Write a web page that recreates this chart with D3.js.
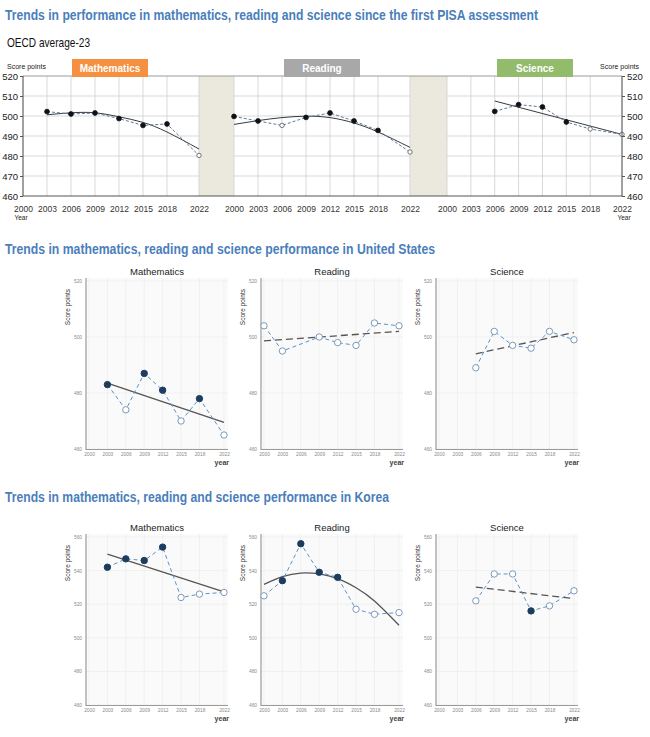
<!DOCTYPE html>
<html><head><meta charset="utf-8">
<script src="https://cdn.jsdelivr.net/npm/d3@7"></script>
<style>body{margin:0;background:#fff}svg{display:block}</style>
</head><body><svg id="c" width="650" height="737"></svg>
<script>
// ---------- DATA ----------
const years = [2000, 2003, 2006, 2009, 2012, 2015, 2018, 2022];
const subjects = ["Mathematics", "Reading", "Science"];
const topTicks = [460, 470, 480, 490, 500, 510, 520];
const usTicks = [460, 480, 500, 520];
const krTicks = [460, 480, 500, 520, 540, 560];

const mainTitle = "Trends in performance in mathematics, reading and science since the first PISA assessment";
const usTitle = "Trends in mathematics, reading and science performance in United States";
const krTitle = "Trends in mathematics, reading and science performance in Korea";

// OECD average-23
const oecdMath = [null, 502.2, 501.0, 501.5, 498.7, 495.3, 496.0, 480.3];
const oecdMathFilled = [0, 1, 1, 1, 1, 1, 1, 0];
const oecdMathTrend = [null, 500.6, 501.6, 501.6, 499.6, 496.8, 492.0, 483.5];
const oecdRead = [499.8, 497.5, 495.3, 499.3, 501.5, 497.5, 492.8, 482.0];
const oecdReadFilled = [1, 1, 0, 1, 1, 1, 1, 0];
const oecdReadTrend = [495.8, 497.7, 499.2, 499.9, 499.2, 496.5, 492.0, 484.3];
const oecdSci = [null, null, 502.3, 505.7, 504.5, 497.0, 493.5, 490.8];
const oecdSciFilled = [0, 0, 1, 1, 1, 1, 0, 0];
const oecdSciTrend = [null, null, 507.5, null, null, null, null, 490.8];

// United States
const usMath = [null, 483, 474, 487, 481, 470, 478, 465];
const usMathFilled = [0, 1, 0, 1, 1, 0, 1, 0];
const usMathTrend = [null, 483.5, null, null, null, null, null, 469.5];
const usRead = [504, 495, null, 500, 498, 497, 505, 504];
const usReadFilled = [0, 0, 0, 0, 0, 0, 0, 0];
const usReadTrend = [498.6, null, null, null, null, null, null, 502.0];
const usSci = [null, null, 489, 502, 497, 496, 502, 499];
const usSciFilled = [0, 0, 0, 0, 0, 0, 0, 0];
const usSciTrend = [null, null, 494.0, null, null, null, null, 501.6];

// Korea
const krMath = [null, 542, 547, 546, 554, 524, 526, 527];
const krMathFilled = [0, 1, 1, 1, 1, 0, 0, 0];
const krMathTrend = [null, 549.8, null, null, null, null, null, 527.3];
const krRead = [525, 534, 556, 539, 536, 517, 514, 515];
const krReadFilled = [0, 1, 1, 1, 1, 0, 0, 0];
const krReadTrend = [531.8, 536.4, 538.5, 538.0, 535.2, 529.8, 521.9, 507.5];
const krSci = [null, null, 522, 538, 538, 516, 519, 528];
const krSciFilled = [0, 0, 0, 0, 0, 1, 0, 0];
const krSciTrend = [null, null, 530.2, null, null, null, null, 523.3];

// ---------- DRAW ----------
const svg = d3.select("#c");
const NARROW = '"Liberation Sans Narrow","Arial Narrow","Liberation Sans",Arial,sans-serif';
const SANS = '"Liberation Sans",Arial,sans-serif';

function pts(vals, filled) {
  return years.map((y, i) => ({ year: y, v: vals[i], f: filled ? filled[i] : 0 })).filter(d => d.v != null);
}

function sectionTitle(txt, y, len) {
  svg.append("text").attr("x", 5).attr("y", y)
    .attr("fill", "#4a7ebb").attr("font-weight", "bold").attr("font-size", 14.5)
    .attr("font-family", NARROW).attr("textLength", len).attr("lengthAdjust", "spacingAndGlyphs")
    .text(txt);
}
sectionTitle(mainTitle, 20, 533);
sectionTitle(usTitle, 254, 430);
sectionTitle(krTitle, 502, 384);

svg.append("text").attr("x", 7).attr("y", 47).attr("font-size", 13).attr("font-family", NARROW)
  .attr("fill", "#111").attr("textLength", 83).attr("lengthAdjust", "spacingAndGlyphs").text("OECD average-23");

// ---- Top OECD panel ----
const tY = d3.scaleLinear().domain([460, 520]).range([196, 76]);
const topPanels = [
  { x0: 23, x1: 199, vals: oecdMath, filled: oecdMathFilled, trend: oecdMathTrend, color: "#f4903f", bx: 72 },
  { x0: 234, x1: 410, vals: oecdRead, filled: oecdReadFilled, trend: oecdReadTrend, color: "#a8a8a8", bx: 284 },
  { x0: 447, x1: 622, vals: oecdSci, filled: oecdSciFilled, trend: oecdSciTrend, color: "#93bb6c", bx: 497 }
];
// beige gaps
svg.append("rect").attr("x", 199).attr("y", 76).attr("width", 35).attr("height", 120).attr("fill", "#ebe8dd");
svg.append("rect").attr("x", 410).attr("y", 76).attr("width", 37).attr("height", 120).attr("fill", "#ebe8dd");

topPanels.forEach((p, k) => {
  const x = d3.scaleLinear().domain([2000, 2022]).range([p.x0, p.x1]);
  const g = svg.append("g");
  g.selectAll(".hg").data(topTicks.slice(1, -1)).join("line")
    .attr("x1", p.x0).attr("x2", p.x1).attr("y1", d => tY(d)).attr("y2", d => tY(d))
    .attr("stroke", "#cfcfcf").attr("stroke-width", 0.8);
  g.selectAll(".vg").data(years).join("line")
    .attr("x1", d => x(d)).attr("x2", d => x(d)).attr("y1", 76).attr("y2", 196)
    .attr("stroke", "#cfcfcf").attr("stroke-width", 0.8);
  const ax = svg.append("g").attr("transform", "translate(0,196)")
    .call(d3.axisBottom(x).tickValues(years).tickFormat(d3.format("d")).tickSize(0).tickPadding(10));
  ax.select(".domain").remove();
  ax.selectAll("text").attr("font-size", 8.5).attr("font-family", NARROW).attr("fill", "#333");
  const tr = pts(p.trend);
  svg.append("path").datum(tr)
    .attr("d", d3.line().x(d => x(d.year)).y(d => tY(d.v)).curve(tr.length > 2 ? d3.curveNatural : d3.curveLinear))
    .attr("fill", "none").attr("stroke", "#3a3a3a").attr("stroke-width", 1);
  const dp = pts(p.vals, p.filled);
  svg.append("path").datum(dp)
    .attr("d", d3.line().x(d => x(d.year)).y(d => tY(d.v)))
    .attr("fill", "none").attr("stroke", "#5a7aa3").attr("stroke-width", 1).attr("stroke-dasharray", "3,2");
  svg.append("g").selectAll("circle").data(dp).join("circle")
    .attr("cx", d => x(d.year)).attr("cy", d => tY(d.v)).attr("r", d => d.f ? 2.4 : 2.2)
    .attr("fill", d => d.f ? "#111" : "#fff").attr("stroke", d => d.f ? "#111" : "#555").attr("stroke-width", 0.8);
});
svg.append("line").attr("x1", 23).attr("x2", 622).attr("y1", 76).attr("y2", 76).attr("stroke", "#9a9a9a").attr("stroke-width", 1);
svg.append("line").attr("x1", 23).attr("x2", 622).attr("y1", 196).attr("y2", 196).attr("stroke", "#555").attr("stroke-width", 1);
svg.append("line").attr("x1", 23).attr("x2", 23).attr("y1", 76).attr("y2", 196).attr("stroke", "#555").attr("stroke-width", 1);
svg.append("line").attr("x1", 622).attr("x2", 622).attr("y1", 76).attr("y2", 196).attr("stroke", "#555").attr("stroke-width", 1);
const yl = svg.append("g").attr("transform", "translate(23,0)")
  .call(d3.axisLeft(tY).tickValues(topTicks).tickSize(3).tickPadding(2));
yl.select(".domain").remove();
yl.selectAll("line").attr("stroke", "#555");
yl.selectAll("text").attr("font-size", 9.5).attr("font-family", NARROW).attr("fill", "#222");
const yr = svg.append("g").attr("transform", "translate(622,0)")
  .call(d3.axisRight(tY).tickValues(topTicks).tickSize(3).tickPadding(2));
yr.select(".domain").remove();
yr.selectAll("line").attr("stroke", "#555");
yr.selectAll("text").attr("font-size", 9.5).attr("font-family", NARROW).attr("fill", "#222");
svg.append("text").attr("x", 7).attr("y", 69).attr("font-size", 7).attr("font-family", NARROW).attr("fill", "#222").text("Score points");
svg.append("text").attr("x", 639).attr("y", 69).attr("text-anchor", "end").attr("font-size", 7).attr("font-family", NARROW).attr("fill", "#222").text("Score points");
svg.append("text").attr("x", 21).attr("y", 220).attr("text-anchor", "middle").attr("font-size", 6.5).attr("font-family", NARROW).attr("fill", "#222").text("Year");
svg.append("text").attr("x", 624).attr("y", 220).attr("text-anchor", "middle").attr("font-size", 6.5).attr("font-family", NARROW).attr("fill", "#222").text("Year");
topPanels.forEach((p, k) => {
  svg.append("rect").attr("x", p.bx).attr("y", 59).attr("width", 76).attr("height", 18).attr("fill", p.color);
  svg.append("text").attr("x", p.bx + 38).attr("y", 71.5).attr("text-anchor", "middle")
    .attr("font-size", 10).attr("font-weight", "bold").attr("font-family", NARROW).attr("fill", "#fff").text(subjects[k]);
});

// ---- Small multiples ----
function smallPanel(k, yDomain, yRange, ticks, vals, filled, trend, dashedTrend) {
  const off = 175 * k;
  const xl = 86 + off, xr = 228 + off;
  const x = d3.scaleLinear().domain([2000, 2022]).range([89 + off, 224 + off]);
  const y = d3.scaleLinear().domain(yDomain).range(yRange);
  const top = yRange[1] - 3, bot = yRange[0];
  const g = svg.append("g");
  g.append("rect").attr("x", xl).attr("y", top).attr("width", xr - xl).attr("height", bot - top).attr("fill", "#fafafa");
  g.selectAll(".hg").data(ticks).join("line")
    .attr("x1", xl).attr("x2", xr).attr("y1", d => y(d)).attr("y2", d => y(d)).attr("stroke", "#ececec").attr("stroke-width", 0.7);
  g.selectAll(".vg").data(years).join("line")
    .attr("x1", d => x(d)).attr("x2", d => x(d)).attr("y1", top).attr("y2", bot).attr("stroke", "#ececec").attr("stroke-width", 0.7);
  const ax = g.append("g").attr("transform", `translate(0,${bot})`)
    .call(d3.axisBottom(x).tickValues(years).tickFormat(d3.format("d")).tickSize(0).tickPadding(4));
  ax.select(".domain").remove();
  ax.selectAll("text").attr("font-size", 4.8).attr("font-family", SANS).attr("fill", "#8a8a8a");
  const ay = g.append("g").attr("transform", `translate(${xl},0)`)
    .call(d3.axisLeft(y).tickValues(ticks).tickSize(0).tickPadding(4));
  ay.select(".domain").remove();
  ay.selectAll("text").attr("font-size", 4.8).attr("font-family", SANS).attr("fill", "#8a8a8a");
  g.append("line").attr("x1", xl).attr("x2", xl).attr("y1", top).attr("y2", bot + 1).attr("stroke", "#9a9a9a").attr("stroke-width", 1.2);
  g.append("line").attr("x1", xl).attr("x2", xr).attr("y1", bot + 0.5).attr("y2", bot + 0.5).attr("stroke", "#9a9a9a").attr("stroke-width", 1.2);
  g.append("text").attr("x", (xl + xr) / 2).attr("y", yRange[1] - 6).attr("text-anchor", "middle")
    .attr("font-size", 9.5).attr("font-family", SANS).attr("fill", "#222").text(subjects[k]);
  g.append("text").attr("transform", `translate(${xl - 16},${yRange[1] + 8}) rotate(-90)`).attr("text-anchor", "end")
    .attr("font-size", 6.5).attr("font-family", SANS).attr("fill", "#333").text("Score points");
  g.append("text").attr("x", xr + 1).attr("y", bot + 16).attr("text-anchor", "end")
    .attr("font-size", 7).attr("font-weight", "bold").attr("font-family", SANS).attr("fill", "#444").text("year");
  const tr = pts(trend);
  g.append("path").datum(tr)
    .attr("d", d3.line().x(d => x(d.year)).y(d => y(d.v)).curve(tr.length > 2 ? d3.curveNatural : d3.curveLinear))
    .attr("fill", "none").attr("stroke", "#555").attr("stroke-width", 1.3)
    .attr("stroke-dasharray", dashedTrend ? "7,4" : null);
  const dp = pts(vals, filled);
  g.append("path").datum(dp)
    .attr("d", d3.line().x(d => x(d.year)).y(d => y(d.v)))
    .attr("fill", "none").attr("stroke", "#5b93c9").attr("stroke-width", 1).attr("stroke-dasharray", "4,3");
  g.append("g").selectAll("circle").data(dp).join("circle")
    .attr("cx", d => x(d.year)).attr("cy", d => y(d.v)).attr("r", 3.2)
    .attr("fill", d => d.f ? "#1d3d60" : "#fff").attr("stroke", d => d.f ? "#1d3d60" : "#7d9abb").attr("stroke-width", 1);
}
const usRange = [449, 281], krRange = [705, 537];
smallPanel(0, [460, 520], usRange, usTicks, usMath, usMathFilled, usMathTrend, false);
smallPanel(1, [460, 520], usRange, usTicks, usRead, usReadFilled, usReadTrend, true);
smallPanel(2, [460, 520], usRange, usTicks, usSci, usSciFilled, usSciTrend, true);
smallPanel(0, [460, 560], krRange, krTicks, krMath, krMathFilled, krMathTrend, false);
smallPanel(1, [460, 560], krRange, krTicks, krRead, krReadFilled, krReadTrend, false);
smallPanel(2, [460, 560], krRange, krTicks, krSci, krSciFilled, krSciTrend, true);
</script></body></html>
